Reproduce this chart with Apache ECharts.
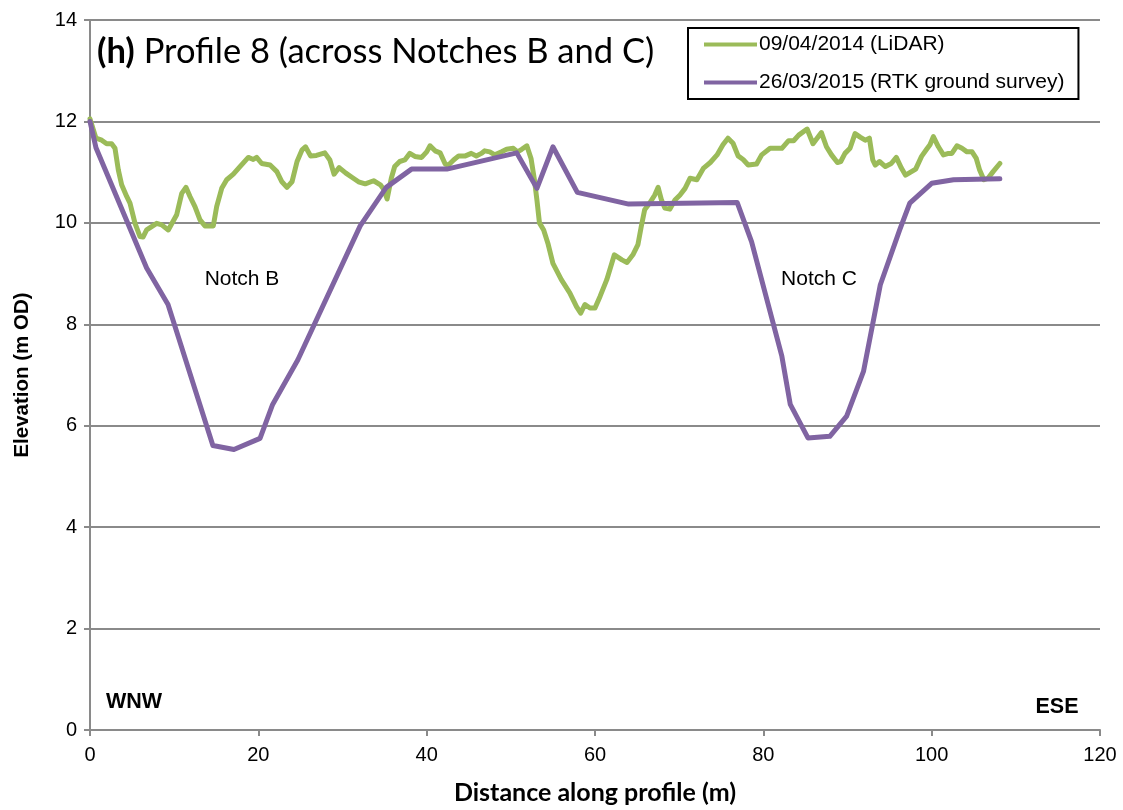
<!DOCTYPE html>
<html><head><meta charset="utf-8">
<script src="https://cdn.jsdelivr.net/npm/echarts@6/dist/echarts.min.js"></script>
<style>html,body{margin:0;padding:0;background:#fff}#c{width:1123px;height:810px}</style>
</head><body><div id="c"></div>
<script>
const lidarDist = [0.0,0.71,1.39,1.98,2.57,2.97,3.37,3.76,4.36,4.75,5.35,5.94,6.3,6.73,7.92,8.52,9.3,10.3,10.9,11.4,11.88,12.47,13.07,13.66,14.65,15.05,15.65,16.24,17.03,17.82,18.81,19.4,19.8,20.4,21.4,22.2,22.8,23.4,24.0,24.6,25.2,25.6,26.2,26.9,27.9,28.5,29.0,29.6,30.4,31.2,31.9,32.7,33.7,34.5,34.9,35.3,35.8,36.2,36.8,37.4,38.0,38.6,39.4,40.0,40.4,41.0,41.6,42.2,42.6,43.2,43.8,44.6,45.3,45.9,46.5,46.9,47.5,48.1,48.9,49.5,50.3,50.8,51.3,51.9,52.4,52.8,53.1,53.4,53.9,54.4,55.0,56.0,57.0,57.8,58.3,58.8,59.4,60.0,60.6,61.4,62.3,63.2,63.8,64.5,65.1,65.5,65.9,66.5,67.1,67.5,67.9,68.3,68.9,69.5,70.1,70.7,71.3,72.1,72.9,73.7,74.5,75.2,75.8,76.4,77.0,77.6,78.2,79.2,79.8,80.8,81.6,82.2,83.0,83.6,84.2,85.2,85.9,86.3,86.9,87.5,88.1,88.8,89.2,89.7,90.3,90.9,91.5,92.1,92.6,93.0,93.3,93.8,94.5,95.2,95.8,96.4,96.9,97.6,98.1,98.8,99.4,99.8,100.2,100.8,101.4,102.0,102.4,103.0,103.6,104.2,104.8,105.3,105.7,106.2,106.7,107.3,108.1];
const lidarElev = [12.05,11.67,11.63,11.56,11.56,11.47,11.04,10.75,10.52,10.39,9.99,9.73,9.72,9.86,9.99,9.96,9.86,10.16,10.58,10.7,10.52,10.32,10.06,9.94,9.94,10.32,10.68,10.85,10.96,11.11,11.29,11.25,11.29,11.17,11.14,11.01,10.81,10.70,10.81,11.21,11.44,11.5,11.32,11.33,11.38,11.24,10.96,11.09,10.98,10.89,10.81,10.77,10.83,10.75,10.66,10.47,10.88,11.11,11.21,11.24,11.37,11.31,11.29,11.4,11.52,11.42,11.38,11.16,11.14,11.24,11.32,11.32,11.37,11.32,11.37,11.42,11.4,11.34,11.4,11.45,11.47,11.4,11.45,11.52,11.27,10.85,10.45,10.0,9.86,9.6,9.2,8.88,8.62,8.35,8.22,8.39,8.32,8.32,8.55,8.88,9.37,9.27,9.22,9.37,9.57,9.93,10.26,10.39,10.55,10.70,10.45,10.29,10.27,10.45,10.55,10.68,10.88,10.85,11.08,11.19,11.34,11.54,11.67,11.57,11.32,11.25,11.14,11.16,11.34,11.47,11.47,11.47,11.62,11.62,11.73,11.85,11.56,11.65,11.78,11.5,11.34,11.19,11.21,11.37,11.47,11.76,11.69,11.63,11.67,11.24,11.14,11.21,11.11,11.17,11.29,11.08,10.94,11.01,11.06,11.31,11.45,11.54,11.70,11.50,11.34,11.37,11.37,11.52,11.47,11.40,11.40,11.27,11.04,10.85,10.88,11.01,11.17];
const rtkDist = [0,0.71,6.73,9.27,14.6,17.1,20.2,21.7,24.7,32.1,35.2,38.2,42.4,50.7,53.1,55.0,57.9,64.0,76.9,78.6,82.2,83.2,85.3,87.9,89.9,91.9,93.9,96.2,97.4,100.0,102.6,108.1];
const rtkElev = [12.0,11.48,9.11,8.39,5.61,5.53,5.75,6.42,7.3,9.94,10.7,11.06,11.06,11.38,10.68,11.5,10.6,10.37,10.4,9.63,7.37,6.42,5.76,5.79,6.19,7.07,8.78,9.86,10.39,10.78,10.85,10.87];
const seriesNames = ['09/04/2014 (LiDAR)', '26/03/2015 (RTK ground survey)'];
const xTicks = {min: 0, max: 120, interval: 20};
const yTicks = {min: 0, max: 14, interval: 2};
const titleBold = '(h)';
const titleRest = ' Profile 8 (across Notches B and C)';
const annotations = ['Notch B', 'Notch C', 'WNW', 'ESE'];

const zip = (a, b) => a.map((v, i) => [v, b[i]]);
const chart = echarts.init(document.getElementById('c'), null, {renderer: 'canvas'});
const F = 'Liberation Sans, Arial, sans-serif';
const H = 'Lato, Open Sans, sans-serif';
const gridColor = '#8a8a8a';
chart.setOption({
  animation: false,
  backgroundColor: '#fff',
  grid: {left: 90, right: 23, top: 20, bottom: 79, containLabel: false},
  xAxis: {
    type: 'value', min: xTicks.min, max: xTicks.max, interval: xTicks.interval,
    name: 'Distance along profile (m)', nameLocation: 'middle', nameGap: 50,
    nameTextStyle: {fontFamily: H, fontWeight: 'bold', fontSize: 25, color: '#000'},
    axisLine: {show: true, lineStyle: {color: gridColor, width: 2}},
    axisTick: {show: true, length: 6, lineStyle: {color: gridColor, width: 2}},
    axisLabel: {fontFamily: F, fontSize: 20, color: '#000', margin: 15},
    splitLine: {show: false}
  },
  yAxis: {
    type: 'value', min: yTicks.min, max: yTicks.max, interval: yTicks.interval,
    name: 'Elevation (m OD)', nameLocation: 'middle', nameGap: 57, nameRotate: 90,
    nameTextStyle: {fontFamily: F, fontWeight: 'bold', fontSize: 20.5, color: '#000'},
    axisLine: {show: true, lineStyle: {color: gridColor, width: 2}},
    axisTick: {show: true, length: 6, lineStyle: {color: gridColor, width: 2}},
    axisLabel: {fontFamily: F, fontSize: 20, color: '#000', margin: 13},
    splitLine: {show: true, lineStyle: {color: gridColor, width: 2}}
  },
  legend: {
    orient: 'vertical', left: 688, top: 28,
    backgroundColor: '#fff', borderColor: '#000', borderWidth: 2,
    padding: [6, 14, 6, 16], itemGap: 17,
    itemWidth: 53, itemHeight: 4, icon: 'rect',
    textStyle: {fontFamily: F, fontSize: 21, color: '#000', padding: [0, 0, 0, -3]},
    data: seriesNames
  },
  series: [
    {name: seriesNames[0], type: 'line', data: zip(lidarDist, lidarElev), showSymbol: false, symbol: 'none',
     lineStyle: {color: '#9BBB59', width: 5, join: 'round', cap: 'round'}, itemStyle: {color: '#9BBB59'}},
    {name: seriesNames[1], type: 'line', data: zip(rtkDist, rtkElev), showSymbol: false, symbol: 'none',
     lineStyle: {color: '#8064A2', width: 5, join: 'round', cap: 'round'}, itemStyle: {color: '#8064A2'}}
  ],
  graphic: [
    {type: 'text', x: 97, y: 52, z: 100, style: {
      text: '{b|' + titleBold + '}{n|' + titleRest + '}', verticalAlign: 'middle',
      rich: {b: {fontFamily: H, fontWeight: 'bold', fontSize: 34.5, fill: '#000'},
             n: {fontFamily: H, fontSize: 34.5, fill: '#000'}}}},
    {type: 'text', x: 242, y: 279, z: 100, style: {text: annotations[0], font: '21px ' + F, fill: '#000', align: 'center', verticalAlign: 'middle'}},
    {type: 'text', x: 819, y: 279, z: 100, style: {text: annotations[1], font: '21px ' + F, fill: '#000', align: 'center', verticalAlign: 'middle'}},
    {type: 'text', x: 134, y: 702, z: 100, style: {text: annotations[2], font: 'bold 21.5px ' + F, fill: '#000', align: 'center', verticalAlign: 'middle'}},
    {type: 'text', x: 1057, y: 707, z: 100, style: {text: annotations[3], font: 'bold 21.5px ' + F, fill: '#000', align: 'center', verticalAlign: 'middle'}}
  ]
});
</script></body></html>
